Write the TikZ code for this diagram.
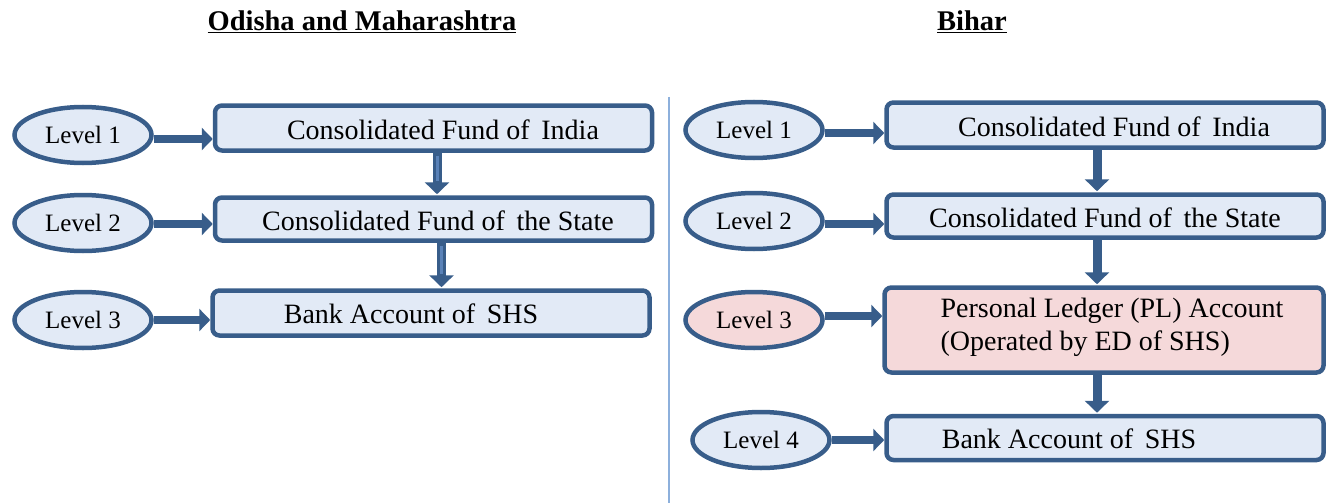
\documentclass[tikz,border=0pt]{standalone}
\usepackage{fontspec}
\setmainfont{Liberation Serif}
\usetikzlibrary{arrows.meta,shapes.geometric}
\definecolor{edge}{HTML}{385D8A}
\definecolor{bluefill}{HTML}{E2EAF6}
\definecolor{redfill}{HTML}{F5D9DA}
\definecolor{divider}{HTML}{8DB0DC}
\definecolor{shaftlight}{HTML}{5A82B8}
\tikzset{
  levelnode/.style={ellipse, draw=edge, line width=4.5pt, fill=bluefill,
    minimum width=137pt, minimum height=56pt, inner sep=0pt, font=\fontsize{25}{28}\selectfont},
  stagebox/.style={rectangle, rounded corners=7pt, draw=edge, line width=4.5pt, fill=bluefill,
    minimum width=437pt, inner sep=0pt},
  stagetext/.style={inner sep=0pt, font=\fontsize{28}{33}\selectfont, align=left},
  heading/.style={inner sep=0pt, font=\fontsize{28.5}{32}\selectfont\bfseries},
  flow/.style={draw=edge, line width=8pt, -{Triangle[length=11pt,width=22pt]}},
  drop/.style={draw=edge, line width=9pt, -{Triangle[length=12pt,width=24pt]}},
  sheen/.style={draw=shaftlight, line width=3pt},
}
\begin{document}
\begin{tikzpicture}[x=1pt,y=-1pt]
\useasboundingbox (0,0) rectangle (1334,503);

% headings
\node[heading] (hl) at (362,22) {\underline{Odisha and Maharashtra}};
\node[heading] (hr) at (972,22) {\underline{Bihar}};

% column divider
\coordinate (dtop) at (669,97);
\coordinate (dbot) at (669,503);
\draw[divider, line width=1.5pt] (dtop) -- (dbot);

% ---- left column: Odisha and Maharashtra ----
\node[levelnode] (la) at (83,135) {Level 1};
\node[levelnode] (lb) at (83,223) {Level 2};
\node[levelnode] (lc) at (83,320) {Level 3};

\node[stagebox, minimum height=45pt] (ba) at (433.5,128) {};
\node[stagebox, minimum height=43pt] (bb) at (433.5,219) {};
\node[stagebox, minimum height=45pt] (bc) at (431,313) {};

\node[stagetext] (ta) at (443,130) {Consolidated Fund of\, India};
\node[stagetext] (tb) at (438,221) {Consolidated Fund of\, the State};
\node[stagetext] (tc) at (411,314) {Bank Account of\, SHS};

\draw[flow] ([yshift=-4pt]la.east) -- ([yshift=-4pt]la.east -| ba.west);
\draw[flow] ([yshift=-1pt]lb.east) -- ([yshift=-1pt]lb.east -| bb.west);
\draw[flow] (lc.east) -- (lc.east -| bc.west);

% vertical drops with a lighter stripe down the shaft
\coordinate (ka) at ([xshift=3.5pt]ba.south);
\coordinate (kb) at ([xshift=8pt]bb.south);
\draw[drop] (ka) -- ([yshift=1pt]ka |- bb.north);
\draw[sheen] ([yshift=-3pt]ka) -- ([yshift=14pt]ka |- bb.north);
\draw[drop] (kb) -- ([yshift=1pt]kb |- bc.north);
\draw[sheen] ([yshift=-3pt]kb) -- ([yshift=14pt]kb |- bc.north);

% ---- right column: Bihar ----
\node[levelnode] (ra) at (754,130) {Level 1};
\node[levelnode] (rb) at (754,221) {Level 2};
\node[levelnode, fill=redfill] (rc) at (754,320) {Level 3};
\node[levelnode] (rd) at (761,440) {Level 4};

\node[stagebox, minimum height=45pt] (sa) at (1105,125) {};
\node[stagebox, minimum height=43pt] (sb) at (1105,216) {};
\node[stagebox, minimum height=85pt, minimum width=439pt, fill=redfill] (sc) at (1104,330) {};
\node[stagebox, minimum height=44pt] (sd) at (1105,438) {};

\node[stagetext] (ua) at (1114,127) {Consolidated Fund of\, India};
\node[stagetext] (ub) at (1105,218) {Consolidated Fund of\, the State};
\node[stagetext, font=\fontsize{28}{33}\selectfont] (uc) at (1112,327) {Personal Ledger (PL) Account\\(Operated by ED of SHS)};
\node[stagetext] (ud) at (1069,439) {Bank Account of\, SHS};

\draw[flow] ([yshift=-3pt]ra.east) -- ([yshift=-3pt]ra.east -| sa.west);
\draw[flow] ([yshift=-3pt]rb.east) -- ([yshift=-3pt]rb.east -| sb.west);
\draw[flow] ([yshift=4pt]rc.east) -- ([yshift=4pt]rc.east -| sc.west);
\draw[flow] (rd.east) -- (rd.east -| sd.west);

\coordinate (qa) at ([xshift=-8pt]sa.south);
\coordinate (qb) at ([xshift=-8pt]sb.south);
\coordinate (qc) at ([xshift=-7pt]sc.south);
\draw[drop] (qa) -- ([yshift=1pt]qa |- sb.north);
\draw[drop] (qb) -- ([yshift=1pt]qb |- sc.north);
\draw[drop] (qc) -- ([yshift=1pt]qc |- sd.north);
\end{tikzpicture}
\end{document}
